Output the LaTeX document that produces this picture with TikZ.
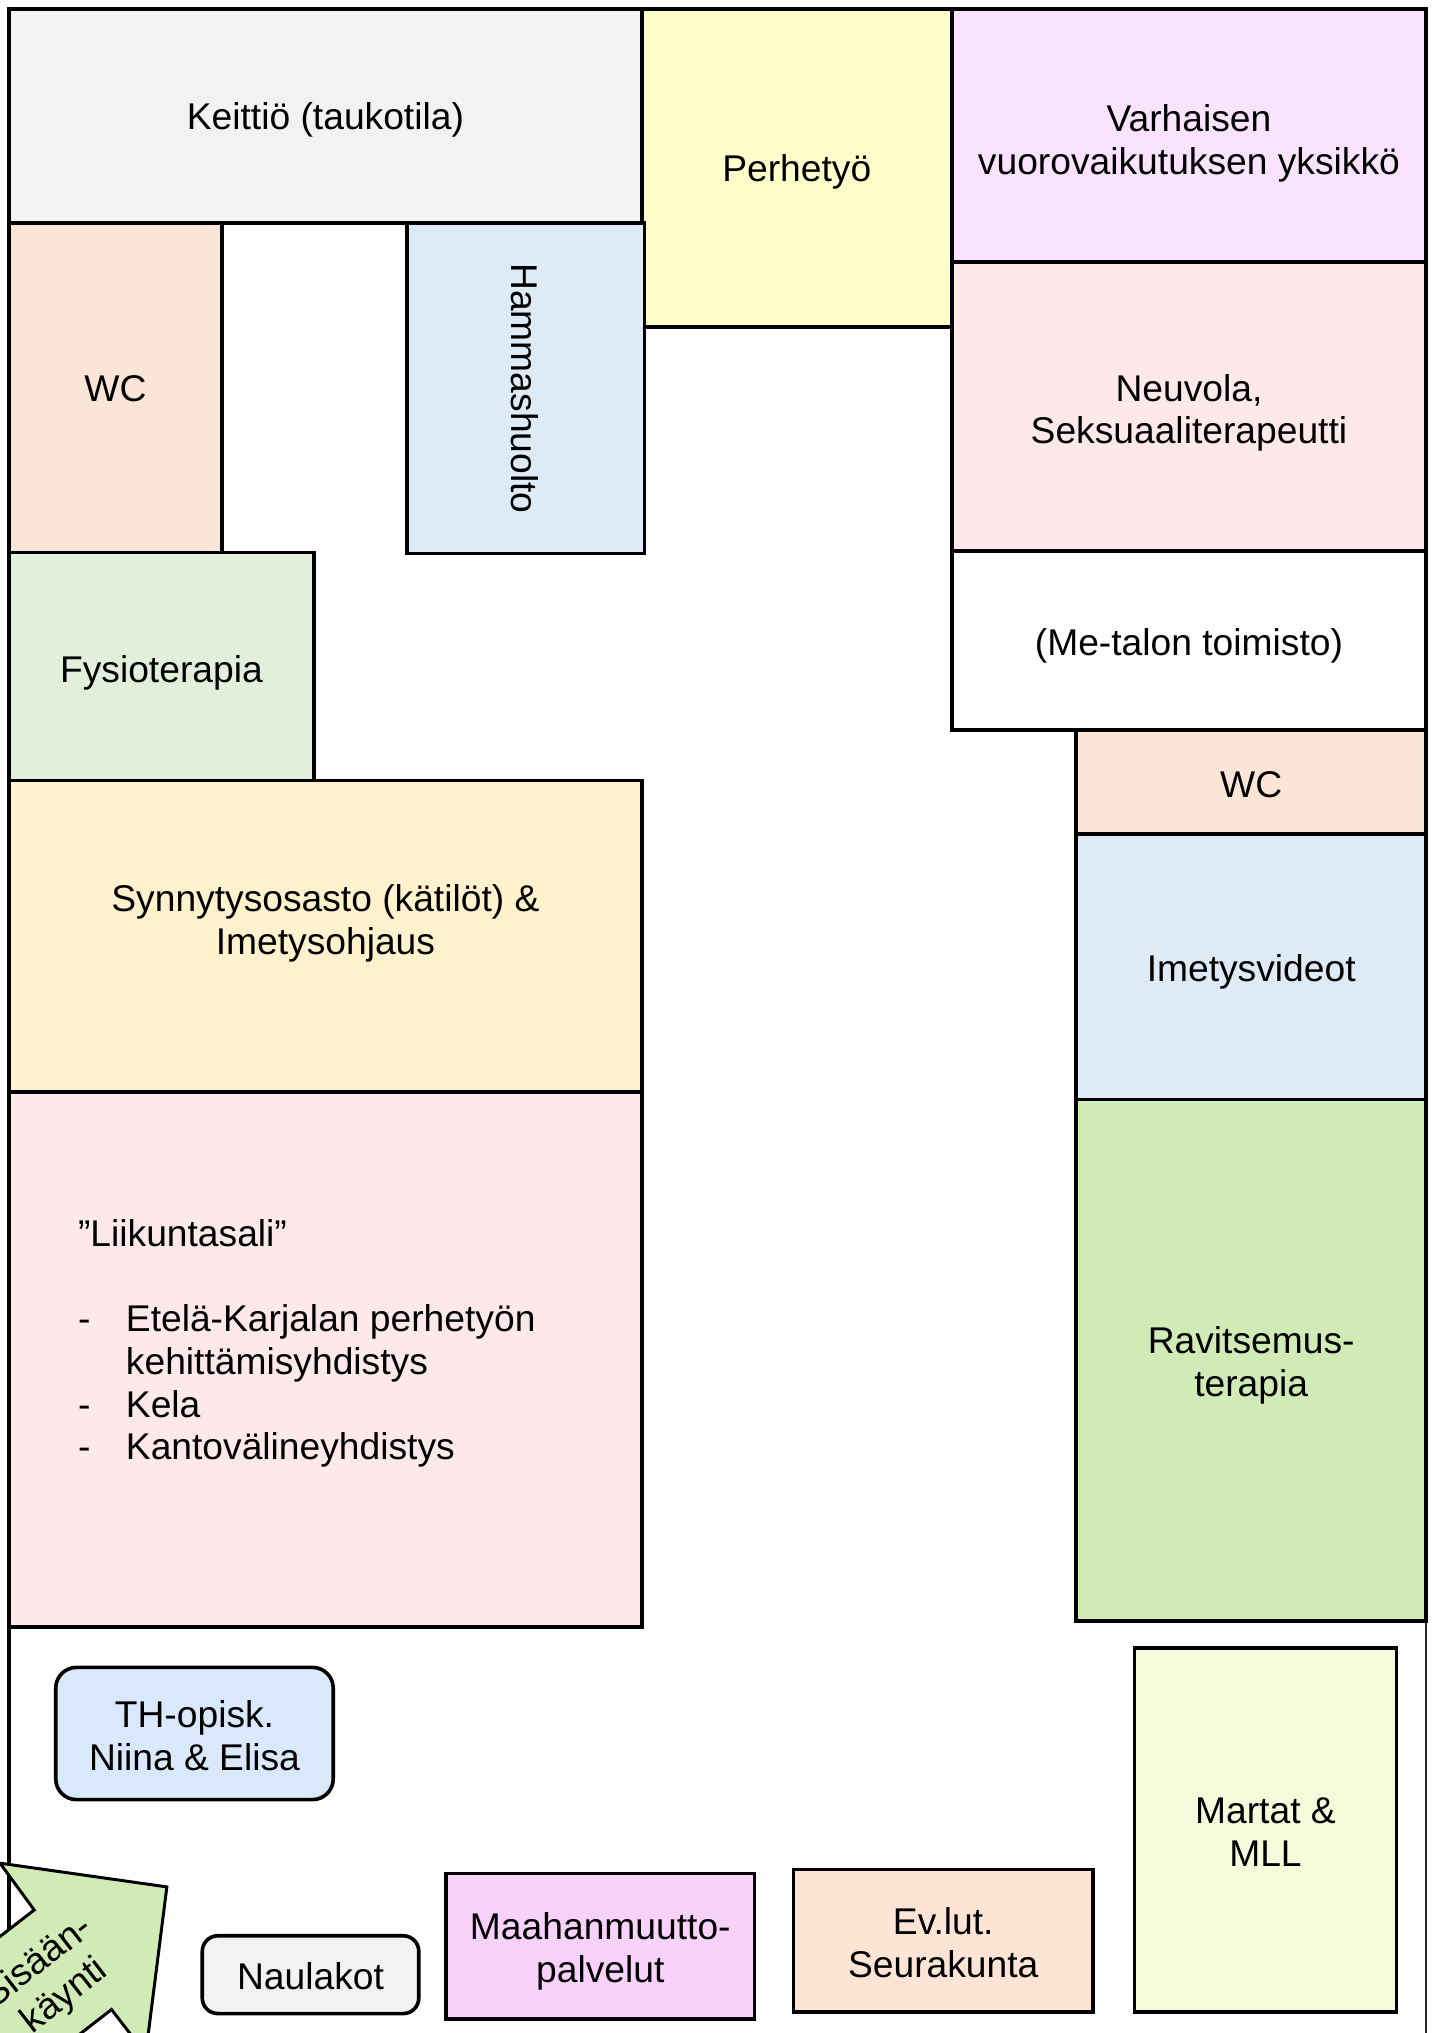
\documentclass[tikz,border=0pt]{standalone}
\usepackage{fontspec}
\setmainfont{Liberation Sans}
\newcommand\lab{\fontsize{28.7}{33}\selectfont}
\definecolor{cKeit}{HTML}{F2F2F2}
\definecolor{cPerh}{HTML}{FFFFCC}
\definecolor{cVarh}{HTML}{F9E3FE}
\definecolor{cWC}{HTML}{FBE5D6}
\definecolor{cBlue}{HTML}{DEEBF7}
\definecolor{cPink}{HTML}{FDE9EB}
\definecolor{cFysi}{HTML}{E2EFDA}
\definecolor{cSynn}{HTML}{FFF2CC}
\definecolor{cRavi}{HTML}{D0EBB5}
\definecolor{cTH}{HTML}{DAE8FC}
\definecolor{cMart}{HTML}{F5FCDC}
\definecolor{cMaah}{HTML}{F8D2FB}
\definecolor{cEvl}{HTML}{FDE4D4}
\tikzset{
  room/.style={draw=black, line width=2.8pt, inner sep=0pt, align=center, font=\lab},
  wall/.style={draw=black, line width=2.8pt},
  label/.style={inner sep=0pt, align=center, font=\lab},
}
\begin{document}
\begin{tikzpicture}[x=1pt,y=-1pt]
\useasboundingbox (0,0) rectangle (1106,1568);
\clip (0,0) rectangle (1106,1568);
\fill[white] (0,0) rectangle (1106,1568);
% outer walls
\coordinate (wbl) at (7,1600);
\coordinate (wtl) at (7,7);
\coordinate (wtr) at (1100,7);
\coordinate (wmr) at (1100,1250);
\coordinate (wbr) at (1100,1600);
\draw[wall] (wbl) -- (wtl) -- (wtr) -- (wmr);
\draw[line width=1.8pt, black!85] (wmr) -- (wbr);
% rooms
\node[room, fill=cKeit, minimum width=488pt, minimum height=165pt] (keittio) at (251,89.5) {};
\node[label] (keittiotxt) at (251,92.5) {Keittiö (taukotila)};
\node[room, fill=cPerh, minimum width=239pt, minimum height=245pt] (perhe) at (614.5,129.5) {};
\node[label] (perhetxt) at (614.5,132.5) {Perhetyö};
\node[room, fill=cVarh, minimum width=366pt, minimum height=195pt] (varh) at (917,104.5) {};
\node[label] (varhtxt) at (917,110.5) {Varhaisen\\vuorovaikutuksen yksikkö};
\node[room, fill=cWC, minimum width=164pt, minimum height=254pt] (wc1) at (89,299) {};
\node[label] (wc1txt) at (89,300) {WC};
\node[room, fill=cBlue, minimum width=183pt, minimum height=255pt] (hamm) at (405.5,299.5) {};
\node[label, rotate=-90] (hammtxt) at (404.5,299.5) {Hammashuolto};
\node[room, fill=cPink, minimum width=366pt, minimum height=223pt] (neuv) at (917,313.5) {};
\node[label] (neuvtxt) at (917,318.5) {Neuvola,\\Seksuaaliterapeutti};
\node[room, fill=white, minimum width=366pt, minimum height=138pt] (metalo) at (917,494) {};
\node[label] (metalotxt) at (917,498) {(Me-talon toimisto)};
\node[room, fill=cFysi, minimum width=235pt, minimum height=176pt] (fysio) at (124.5,514) {};
\node[label] (fysiotxt) at (124.5,519) {Fysioterapia};
\node[room, fill=cWC, minimum width=270pt, minimum height=80pt] (wc2) at (965,603) {};
\node[label] (wc2txt) at (965,605) {WC};
\node[room, fill=cSynn, minimum width=488pt, minimum height=240pt] (synn) at (251,722) {};
\node[label] (synntxt) at (251,712) {Synnytysosasto (kätilöt) \&\\Imetysohjaus};
\node[room, fill=cBlue, minimum width=270pt, minimum height=205pt] (imet) at (965,745.5) {};
\node[label] (imettxt) at (965,749.5) {Imetysvideot};
\node[room, fill=cPink, minimum width=488pt, minimum height=413pt] (liik) at (251,1048.5) {};
\node[inner sep=0pt, anchor=base west, font=\lab] (liiktxt) at (60,961) {\begin{tabular}[t]{@{}l@{\hspace{27.4pt}}l@{}}
\multicolumn{2}{@{}l@{}}{”Liikuntasali”}\\
\\
-& Etelä-Karjalan perhetyön\\
 & kehittämisyhdistys\\
-& Kela\\
-& Kantovälineyhdistys
\end{tabular}};
\node[room, fill=cRavi, minimum width=270pt, minimum height=402pt] (ravi) at (965,1049) {};
\node[label] (ravitxt) at (965,1053) {Ravitsemus-\\terapia};
\node[room, fill=cTH, rounded corners=16pt, minimum width=214pt, minimum height=102pt] (th) at (150,1337) {};
\node[label] (thtxt) at (150,1338.5) {TH-opisk.\\Niina \& Elisa};
\node[room, fill=cMart, minimum width=202pt, minimum height=281pt] (martat) at (976,1411.5) {};
\node[label] (martattxt) at (976,1413) {Martat \&\\MLL};
\node[room, fill=cMaah, minimum width=238pt, minimum height=112pt] (maah) at (463,1501) {};
\node[label] (maahtxt) at (463,1505) {Maahanmuutto-\\palvelut};
\node[room, fill=cEvl, minimum width=231pt, minimum height=110pt] (evlut) at (727.5,1497) {};
\node[label] (evluttxt) at (727.5,1498.5) {Ev.lut.\\Seurakunta};
\node[room, fill=cKeit, rounded corners=12pt, minimum width=167pt, minimum height=60pt] (naula) at (239.5,1523) {};
\node[label] (naulatxt) at (239.5,1524) {Naulakot};
% entrance arrow
\filldraw[fill=cRavi, draw=black, line width=2.3pt, line join=miter]
  (128.7,1455.3) -- (0,1437) -- (26.4,1473.1) -- (-171,1626) -- (-111.5,1703)
  -- (86,1549.9) -- (112.4,1584) -- cycle;
\node[label, rotate=37.8] (sisaan) at (40,1527) {Sisään-\\käynti};
\end{tikzpicture}
\end{document}
